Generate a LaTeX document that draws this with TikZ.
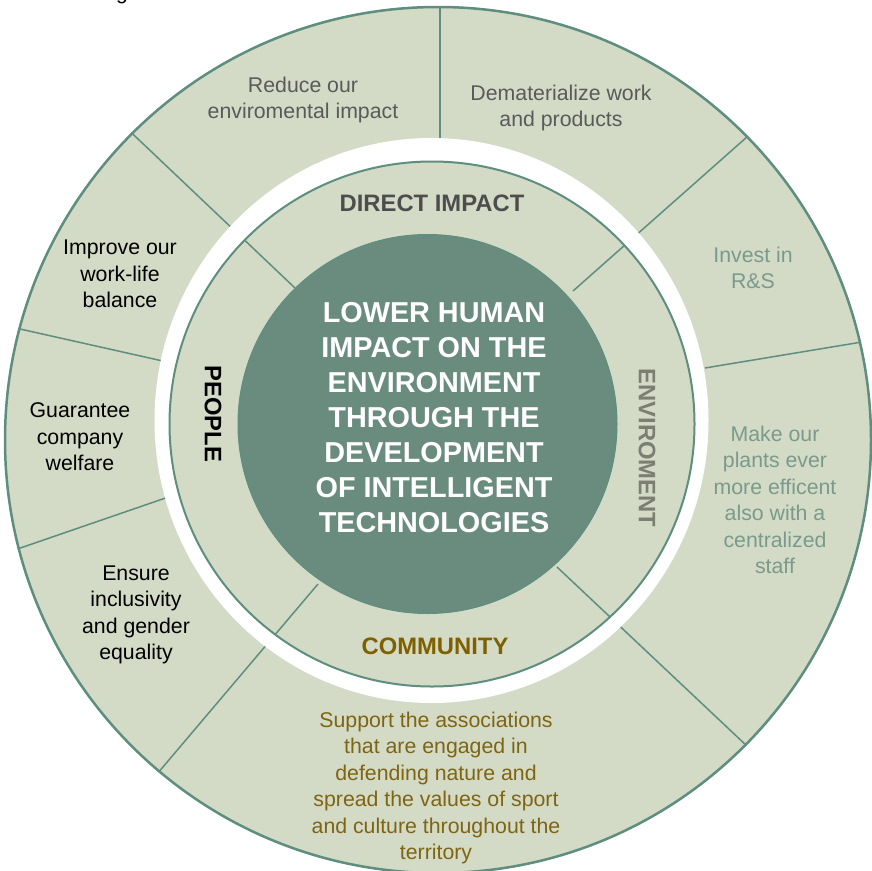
\documentclass[tikz,border=0pt]{standalone}
\usepackage{fontspec}
\setmainfont{Liberation Sans}
\definecolor{sage}{HTML}{D3DBC6}
\definecolor{lineteal}{HTML}{5E8E7E}
\definecolor{core}{HTML}{6A8C7E}
\definecolor{graytxt}{HTML}{5A5A5A}
\definecolor{darkgraytxt}{HTML}{4D4D4D}
\definecolor{greentxt}{HTML}{7A9A8B}
\definecolor{envtxt}{HTML}{7C7E72}
\definecolor{olivetxt}{HTML}{7F6000}
\definecolor{olivepara}{HTML}{7F6412}
\begin{document}
\begin{tikzpicture}[x=1pt,y=-1pt,
  divline/.style={draw=lineteal, line width=1.5pt},
  ringline/.style={draw=lineteal, line width=2pt},
  outertext/.style={align=center, inner sep=0pt, font=\fontsize{21.3}{26.5}\selectfont},
  headtext/.style={inner sep=0pt, font=\fontsize{23.8}{28}\selectfont\bfseries},
  coretext/.style={align=center, inner sep=0pt, text=white, font=\fontsize{28.8}{35}\selectfont\bfseries}
]
\useasboundingbox (0,0) rectangle (872,870);
% outer disc
\fill[sage] (438,440) circle[radius=434pt];
% divider lines
\begin{scope}
  \clip (438,440) circle[radius=434pt];
  \draw[divline] (440,-10) -- (440,140);
  \draw[divline] (118,120) -- (295,288);
  \draw[divline] (765,121) -- (573,291);
  \draw[divline] (557,567) -- (765,763);
  \draw[divline] (318,584) -- (146,787);
  \draw[divline] (0,324.5) -- (165,361.5);
  \draw[divline] (0,555) -- (167,497.5);
  \draw[divline] (705,368) -- (880,339);
\end{scope}
\draw[lineteal, line width=2.5pt] (438,440) circle[radius=433pt];
% white ring
\fill[white, even odd rule] (431.5,420.5) ellipse[x radius=277pt, y radius=282.5pt]
  (432,424) circle[radius=262.5pt];
\draw[ringline] (432,424) circle[radius=262.5pt];
% core
\filldraw[fill=core, draw=lineteal, line width=1pt] (427.5,424) circle[radius=189.5pt];

% cut-off text fragment at the top
\node[inner sep=0pt, anchor=base, font=\fontsize{21}{21}\selectfont] (frag) at (122,-1) {g};

% core text
\node[coretext] (core) at (434,418) {LOWER HUMAN\\IMPACT ON THE\\ENVIRONMENT\\THROUGH THE\\DEVELOPMENT\\OF INTELLIGENT\\TECHNOLOGIES};

% inner ring headings
\node[headtext, text=darkgraytxt] (direct) at (432,203) {DIRECT IMPACT};
\node[headtext, text=olivetxt] (community) at (435,646) {COMMUNITY};
\node[headtext, text=black, rotate=-90] (people) at (213,414) {PEOPLE};
\node[headtext, text=envtxt, rotate=-90] (envir) at (647,448) {ENVIROMENT};

% outer ring texts
\node[outertext, text=graytxt] (reduce) at (303,100) {Reduce our\\enviromental impact};
\node[outertext, text=graytxt] (demat) at (561,108) {Dematerialize work\\and products};
\node[outertext, text=black] (improve) at (120,274) {Improve our\\work-life\\balance};
\node[outertext, text=black] (guarantee) at (80,437) {Guarantee\\company\\welfare};
\node[outertext, text=black] (ensure) at (136,615) {Ensure\\inclusivity\\and gender\\equality};
\node[outertext, text=greentxt] (invest) at (753,268) {Invest in\\R\&S};
\node[outertext, text=greentxt] (plants) at (775,500) {Make our\\plants ever\\more efficent\\also with a\\centralized\\staff};
\node[outertext, text=olivepara] (support) at (436,788) {Support the associations\\that are engaged in\\defending nature and\\spread the values of sport\\and culture throughout the\\territory};
\end{tikzpicture}
\end{document}
